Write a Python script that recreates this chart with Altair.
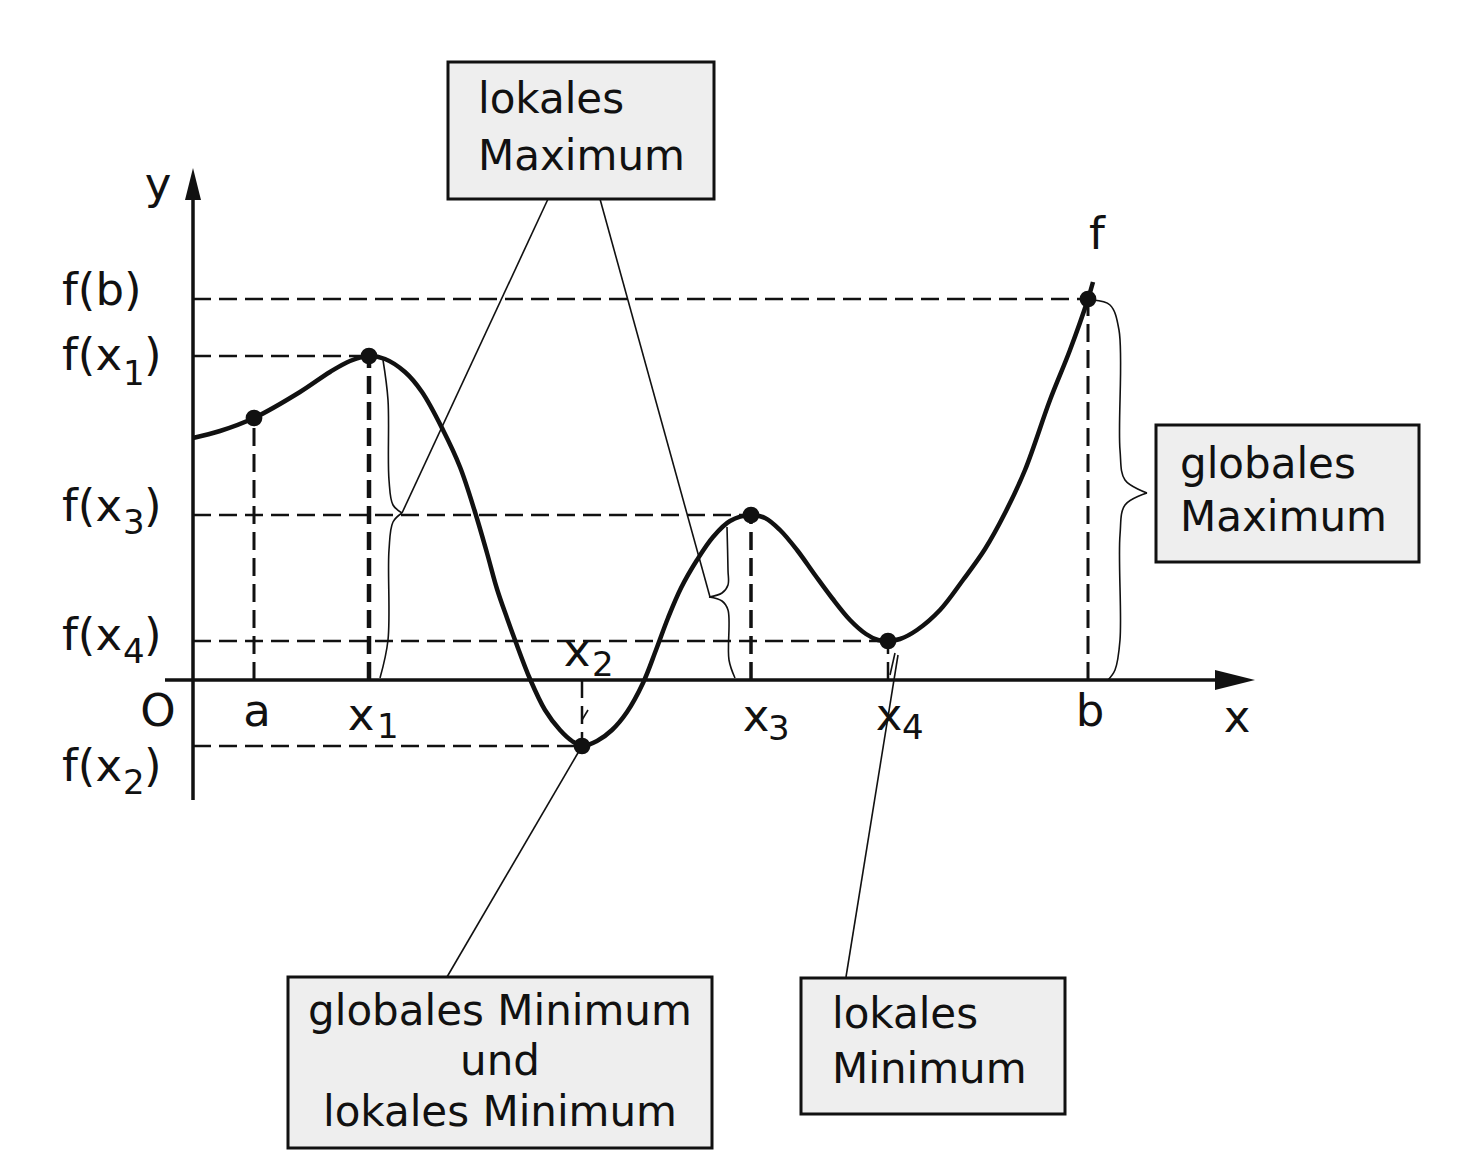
import altair as alt
import pandas as pd

# ---- data (units: origin O, 1 unit = 100 px of original) ----
curve_x = [0.00, 0.27, 0.61, 1.07, 1.37, 1.57, 1.76, 1.92, 2.12, 2.29, 2.50, 2.67, 2.82, 2.94,
           3.04, 3.14, 3.22, 3.37, 3.52, 3.67, 3.79, 3.89, 4.04, 4.19, 4.34, 4.50, 4.63, 4.75,
           4.88, 5.04, 5.20, 5.37, 5.58, 5.72, 5.87, 6.04, 6.22, 6.39, 6.57, 6.73, 6.85, 6.95,
           7.07, 7.24, 7.47, 7.70, 7.92, 8.12, 8.32, 8.57, 8.77, 8.95, 9.00]
curve_y = [2.42, 2.49, 2.62, 2.88, 3.08, 3.19, 3.24, 3.21, 3.08, 2.88, 2.50, 2.13, 1.68, 1.27,
           0.91, 0.62, 0.40, 0.01, -0.30, -0.50, -0.61, -0.66, -0.61, -0.50, -0.32, -0.03, 0.30,
           0.62, 0.92, 1.20, 1.43, 1.59, 1.65, 1.62, 1.50, 1.30, 1.05, 0.82, 0.60, 0.46, 0.40,
           0.39, 0.41, 0.50, 0.70, 1.00, 1.31, 1.67, 2.10, 2.80, 3.30, 3.81, 3.98]

pt_names = ["a", "x1", "x2", "x3", "x4", "b"]
pt_x = [0.61, 1.76, 3.89, 5.58, 6.95, 8.95]
pt_y = [2.62, 3.24, -0.66, 1.65, 0.39, 3.81]

# axis labels (main glyphs, centred)
lab_text = ["O", "a", "x", "x", "x", "x", "b", "x", "f", "y"]
lab_u = [-0.35, 0.64, 1.68, 3.84, 5.63, 6.96, 8.97, 10.44, 9.04, -0.35]
lab_v = [-0.32, -0.32, -0.36, 0.28, -0.37, -0.36, -0.32, -0.38, 4.45, 4.95]
# subscript digits of the x labels (left aligned)
sub_text = ["1", "2", "3", "4"]
sub_u = [1.84, 3.99, 5.75, 7.09]
sub_v = [-0.48, 0.14, -0.50, -0.49]

# y labels: "f(b)" and "f(x" parts, left aligned
ylab_text = ["f(b)", "f(x", "f(x", "f(x", "f(x"]
ylab_v = [3.89, 3.24, 1.73, 0.44, -0.87]
ylab_u = -1.31
ysub_text = ["1", "3", "4", "2"]
ysub_v = [3.05, 1.56, 0.27, -1.04]
ysub_u = -0.70
yclose_v = [3.24, 1.73, 0.44, -0.87]
yclose_u = -0.49

# boxes
box_x1 = [2.55, 9.63, 0.95, 6.08]
box_x2 = [5.21, 12.26, 5.19, 8.72]
box_y1 = [6.18, 2.55, -2.97, -2.98]
box_y2 = [4.81, 1.18, -4.68, -4.34]

boxtxt_left = ["lokales", "Maximum", "globales", "Maximum", "lokales", "Minimum"]
boxtxt_left_u = [2.85, 2.85, 9.87, 9.87, 6.39, 6.39]
boxtxt_left_v = [5.80, 5.23, 2.15, 1.62, -3.35, -3.90]
boxtxt_center = ["globales Minimum", "und", "lokales Minimum"]
boxtxt_center_u = [3.07, 3.07, 3.07]
boxtxt_center_v = [-3.32, -3.82, -4.33]

# pointer lines
ptr_x1 = [3.55, 4.07, 2.54, 6.53, 3.89, 6.97]
ptr_y1 = [4.81, 4.81, -2.97, -2.97, -0.40, 0.05]
ptr_x2 = [2.09, 5.17, 3.89, 7.05, 3.95, 7.02]
ptr_y2 = [1.67, 0.83, -0.66, 0.25, -0.30, 0.27]

# braces (two halves each, meeting at tip)
brace_id = ([0] * 5 + [1] * 5 + [2] * 5 + [3] * 5 + [4] * 6 + [5] * 6)
brace_u = [1.90, 1.95, 1.96, 2.00, 2.09,
           2.09, 2.00, 1.96, 1.95, 1.87,
           5.34, 5.35, 5.35, 5.29, 5.16,
           5.16, 5.29, 5.35, 5.36, 5.42,
           9.00, 9.17, 9.26, 9.27, 9.32, 9.54,
           9.54, 9.32, 9.27, 9.27, 9.22, 9.15]
brace_v = [3.20, 2.80, 2.00, 1.75, 1.67,
           1.67, 1.58, 1.30, 0.40, 0.02,
           1.53, 1.10, 0.95, 0.87, 0.83,
           0.83, 0.79, 0.70, 0.20, 0.02,
           3.80, 3.75, 3.50, 2.30, 2.00, 1.87,
           1.87, 1.75, 1.45, 0.40, 0.10, 0.00]

# dashed helper lines
dash_x = [0, 0, 0, 0, 0, 0.61, 1.76, 3.89, 5.58, 6.95, 8.95]
dash_x2 = [8.95, 1.76, 5.58, 6.95, 3.89, 0.61, 1.76, 3.89, 5.58, 6.95, 8.95]
dash_y = [3.81, 3.24, 1.65, 0.39, -0.66, 0.0, 0.0, 0.0, 0.0, 0.0, 0.0]
dash_y2 = [3.81, 3.24, 1.65, 0.39, -0.66, 2.62, 3.24, -0.66, 1.65, 0.39, 3.81]
dash_w = [2.5, 2.5, 2.5, 2.5, 2.5, 3, 4.5, 2.5, 3.5, 2.5, 3]

# ---- scales mapping the whole canvas ----
W, H = 1452, 1144
xs = alt.Scale(domain=[-1.85, 12.67], nice=False, zero=False)
ys = alt.Scale(domain=[-4.72, 6.72], nice=False, zero=False)
X = lambda f: alt.X(f, type="quantitative", scale=xs, axis=None)
Y = lambda f: alt.Y(f, type="quantitative", scale=ys, axis=None)
X2 = lambda f: alt.X2(f)
Y2 = lambda f: alt.Y2(f)

FONT = "DejaVu Sans"
INK = "#111111"

curve_df = pd.DataFrame({"u": curve_x, "v": curve_y, "i": range(len(curve_x))})
pts_df = pd.DataFrame({"n": pt_names, "u": pt_x, "v": pt_y})
dash_df = pd.DataFrame({"u": dash_x, "u2": dash_x2, "v": dash_y, "v2": dash_y2, "w": dash_w})
box_df = pd.DataFrame({"u": box_x1, "u2": box_x2, "v": box_y1, "v2": box_y2})
ptr_df = pd.DataFrame({"u": ptr_x1, "v": ptr_y1, "u2": ptr_x2, "v2": ptr_y2})
brace_df = pd.DataFrame({"g": brace_id, "u": brace_u, "v": brace_v, "i": range(len(brace_u))})
lab_df = pd.DataFrame({"t": lab_text, "u": lab_u, "v": lab_v})
sub_df = pd.DataFrame({"t": sub_text + ysub_text,
                       "u": sub_u + [ysub_u] * len(ysub_text),
                       "v": sub_v + ysub_v})
ylab_df = pd.DataFrame({"t": ylab_text + [")"] * len(yclose_v),
                        "u": [ylab_u] * len(ylab_text) + [yclose_u] * len(yclose_v),
                        "v": ylab_v + yclose_v})
btl_df = pd.DataFrame({"t": boxtxt_left, "u": boxtxt_left_u, "v": boxtxt_left_v})
btc_df = pd.DataFrame({"t": boxtxt_center, "u": boxtxt_center_u, "v": boxtxt_center_v})
axes_df = pd.DataFrame({"u": [0, -0.28], "u2": [0, 10.32], "v": [-1.20, 0], "v2": [4.82, 0]})
arrow_df = pd.DataFrame({"u": [0.0], "v": [4.96]})
arrowx_df = pd.DataFrame({"u": [10.42], "v": [0.0]})

dashes = alt.Chart(dash_df).mark_rule(color=INK, strokeDash=[18, 8]).encode(
    x=X("u"), x2=X2("u2"), y=Y("v"), y2=Y2("v2"),
    strokeWidth=alt.StrokeWidth("w:Q", scale=None))

axes = alt.Chart(axes_df).mark_rule(color=INK, strokeWidth=3.5).encode(
    x=X("u"), x2=X2("u2"), y=Y("v"), y2=Y2("v2"))

arrow_y = alt.Chart(arrow_df).mark_point(
    shape="M0,-1L0.5,1L-0.5,1Z", filled=True, color=INK, size=1024, opacity=1).encode(
    x=X("u"), y=Y("v"))
arrow_x = alt.Chart(arrowx_df).mark_point(
    shape="M1,0L-1,-0.5L-1,0.5Z", filled=True, color=INK, size=1600, opacity=1).encode(
    x=X("u"), y=Y("v"))

boxes = alt.Chart(box_df).mark_rect(fill="#eeeeee", stroke=INK, strokeWidth=3).encode(
    x=X("u"), x2=X2("u2"), y=Y("v"), y2=Y2("v2"))

ptrs = alt.Chart(ptr_df).mark_rule(color=INK, strokeWidth=1.6).encode(
    x=X("u"), x2=X2("u2"), y=Y("v"), y2=Y2("v2"))

braces = alt.Chart(brace_df).mark_line(color=INK, strokeWidth=1.6, interpolate="catmull-rom").encode(
    x=X("u"), y=Y("v"), detail="g:N", order="i:Q")

curve = alt.Chart(curve_df).mark_line(color=INK, strokeWidth=4.5, interpolate="catmull-rom").encode(
    x=X("u"), y=Y("v"), order="i:Q")

points = alt.Chart(pts_df).mark_point(filled=True, shape="circle", size=280, color=INK, opacity=1).encode(
    x=X("u"), y=Y("v"))

labels = alt.Chart(lab_df).mark_text(font=FONT, fontSize=45, color=INK, align="center",
                                     baseline="middle").encode(x=X("u"), y=Y("v"), text="t:N")
subs = alt.Chart(sub_df).mark_text(font=FONT, fontSize=34, color=INK, align="left",
                                   baseline="middle").encode(x=X("u"), y=Y("v"), text="t:N")
ylabels = alt.Chart(ylab_df).mark_text(font=FONT, fontSize=45, color=INK, align="left",
                                       baseline="middle").encode(x=X("u"), y=Y("v"), text="t:N")
btl = alt.Chart(btl_df).mark_text(font=FONT, fontSize=42, color=INK, align="left",
                                  baseline="middle").encode(x=X("u"), y=Y("v"), text="t:N")
btc = alt.Chart(btc_df).mark_text(font=FONT, fontSize=42, color=INK, align="center",
                                  baseline="middle").encode(x=X("u"), y=Y("v"), text="t:N")

chart = alt.layer(
    dashes, ptrs, braces, boxes, axes, arrow_y, arrow_x, curve, points,
    labels, subs, ylabels, btl, btc
).properties(
    width=W, height=H, padding=0,
    autosize=alt.AutoSizeParams(type="none"),
    background="white"
).configure_view(stroke=None)

chart.save("out.html", embed_options={"renderer": "svg", "actions": False})
